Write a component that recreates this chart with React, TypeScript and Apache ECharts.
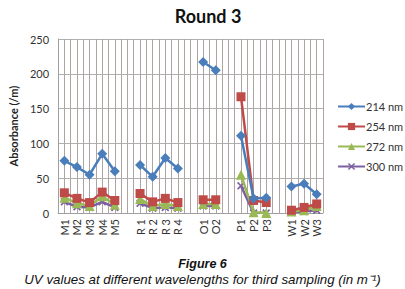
import React, { useEffect, useRef } from "react";
import * as echarts from "echarts";

const categories = ["M1", "M2", "M3", "M4", "M5", "", "R 1", "R 2", "R 3", "R 4", " ", "O1", "O2", "  ", "P1", "P2", "P3", "   ", "W1", "W2", "W3"];
const nm214 = [75, 66, 55, 85, 60, null, 69, 52, 79, 64, null, 217, 205, null, 111, 21, 22, null, 38, 42, 27];
const nm254 = [29, 21, 15, 30, 18, null, 28, 16, 21, 15, null, 19, 19, null, 167, 18, 15, null, 4, 8, 13];
const nm272 = [22, 14, 10, 24, 12, null, 20, 10, 13, 10, null, 13, 13, null, 55, 1, 0, null, 2, 4, 10];
const nm300 = [16, 9, 8, 16, 8, null, 14, 7, 8, 7, null, 10, 10, null, 39, 0, 0, null, 1, 2, 4];
const seriesNames = ["214 nm", "254 nm", "272 nm", "300 nm"];
const yTicks = [0, 50, 100, 150, 200, 250];

const xMarker = "path://M0,1.5L1.5,0L5,3.5L8.5,0L10,1.5L6.5,5L10,8.5L8.5,10L5,6.5L1.5,10L0,8.5L3.5,5Z";

export default function App() {
  const ref = useRef<HTMLDivElement>(null);
  useEffect(() => {
    document.body.style.margin = "0";
    const chart = echarts.init(ref.current!, null, { renderer: "svg" });
    const font = "Lato";
    const colors = ["#4a7ebb", "#be4b48", "#98b954", "#7d60a0"];
    const symbols = ["diamond", "rect", "triangle", xMarker];
    const sizes = [10, 9, 10, 8];
    const datas = [nm214, nm254, nm272, nm300];
    const gridColor = "#aea4a4";
    chart.setOption({
      animation: false,
      backgroundColor: "#ffffff",
      title: {
        text: "Round 3",
        left: 203,
        textAlign: "center",
        top: 2,
        textStyle: { fontFamily: font, fontSize: 18, fontWeight: "bold", color: "#111" },
      },
      legend: {
        orient: "vertical",
        left: 332,
        top: 96,
        itemGap: 9,
        itemWidth: 27,
        itemHeight: 9,
        data: seriesNames,
        textStyle: { fontFamily: font, fontSize: 11, color: "#333", padding: [0, 0, 0, -4] },
      },
      grid: { left: 51, right: 82, top: 39, bottom: 76 },
      xAxis: {
        type: "category",
        data: categories,
        boundaryGap: true,
        axisLine: { show: true, lineStyle: { color: "#a0a0a0" } },
        axisTick: {
          show: true,
          alignWithLabel: true,
          interval: 0,
          inside: true,
          length: 174,
          lineStyle: { color: gridColor, width: 1 },
        },
        splitLine: { show: true, interval: 0, lineStyle: { color: gridColor, width: 1 } },
        axisLabel: {
          interval: 0,
          rotate: 90,
          fontFamily: font,
          fontSize: 11,
          color: "#333",
          margin: 6,
        },
      },
      yAxis: {
        type: "value",
        min: 0,
        max: 250,
        interval: 50,
        name: "Absorbance (/m)",
        nameLocation: "middle",
        nameGap: 31,
        nameTextStyle: { fontFamily: font, fontSize: 11, fontWeight: "bold", color: "#222" },
        axisLine: { show: true, lineStyle: { color: "#a0a0a0" } },
        axisTick: { show: false },
        splitLine: { show: true, lineStyle: { color: "#b0b0b0" } },
        axisLabel: {
          fontFamily: font,
          fontSize: 11,
          color: "#333",
          margin: 9,
          formatter: (v: number) => (yTicks.includes(v) ? String(v) : ""),
        },
      },
      series: datas.map((d, i) => ({
        name: seriesNames[i],
        type: "line",
        data: d,
        connectNulls: false,
        symbol: symbols[i],
        symbolSize: sizes[i],
        showAllSymbol: true,
        itemStyle: { color: colors[i] },
        lineStyle: { color: colors[i], width: 2.5 },
        z: 4 - i + 2,
      })),
      graphic: [
        {
          type: "text",
          left: "center",
          top: 257,
          style: {
            text: "Figure 6",
            fontFamily: "'Liberation Sans', Arial, sans-serif",
            fontSize: 12.5,
            fontWeight: "bold",
            fontStyle: "italic",
            fill: "#111",
          },
        },
        {
          type: "text",
          left: "center",
          top: 273,
          style: {
            text: "UV values at different wavelengths for third sampling (in m\u207B\u00B9)",
            fontFamily: "'Liberation Sans', Arial, sans-serif",
            fontSize: 13.3,
            fontStyle: "italic",
            fill: "#111",
          },
        },
      ],
    });
    return () => chart.dispose();
  }, []);
  return <div ref={ref} style={{ position: "absolute", left: 0, top: 0, width: 405, height: 289 }} />;
}
